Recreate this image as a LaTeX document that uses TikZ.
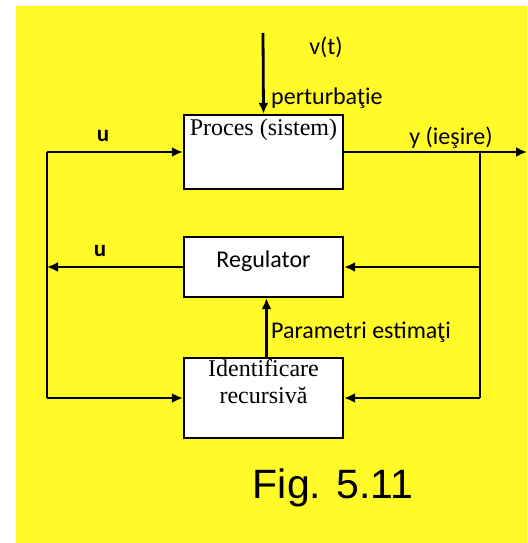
\documentclass[tikz,border=0pt]{standalone}
\usepackage{fontspec}
\setmainfont{Liberation Serif}
\newfontfamily\lblfont{Carlito}
\newfontfamily\figfont{Liberation Sans}
\usetikzlibrary{positioning, arrows.meta}
\definecolor{bgyellow}{RGB}{255,250,40}
\tikzset{
  blk/.style={draw, line width=2.3pt, fill=white, minimum width=159pt, inner sep=0pt},
  btxt/.style={font=\fontsize{24}{27}\selectfont, align=center, inner sep=0pt},
  lbl/.style={font=\lblfont\fontsize{24}{27}\selectfont, inner sep=0pt},
  sig/.style={-{Latex[length=11pt,width=10pt]}, line width=2.8pt},
  wire/.style={line width=2.8pt},
}
\begin{document}
\begin{tikzpicture}[x=1pt,y=-1pt]
        \fill[white](0,0) rectangle (527,543);
        \fill[bgyellow](16,6) rectangle (527,543);
        \useasboundingbox (0,0) rectangle (527,543);
        % blocuri
        \node[blk, minimum height=74pt](proc) at (263.5,152){};
        \node[btxt, below=5pt of proc.north](proct){Proces (sistem)};
        \node[blk, minimum height=60pt](reg) at (263.5,267){};
        \node[lbl](regt) at (263.5,261){Regulator};
        \node[blk, minimum height=80pt](ident) at (263.5,398){};
        \node[btxt, below=3pt of ident.north](identt){Identificare\\recursivă};
        % puncte
        \coordinate (vtop) at (263,33);
        \coordinate (lt) at (47,152);
        \coordinate (rt) at (480,152);
        \coordinate (yout) at (527,152);
        \coordinate (lb) at (47,398);
        \coordinate (rb) at (480,398);
        % legaturi
        \draw[sig](vtop)--(proc.north);
        \draw[sig](lt)--(proc.west);
        \draw[sig](proc.east)--(yout);
        \draw[wire](rt)--(rb);
        \draw[sig](rt |- reg.east)--(reg.east);
        \draw[sig](rb)--(ident.east);
        \draw[sig](reg.west)--(reg.west -| lt);
        \draw[wire](lt)--(lb);
        \draw[sig](lb)--(ident.west);
        \draw[sig]([xshift=3pt]ident.north)--([xshift=3pt]reg.south);
        % etichete
        \node[lbl](vt) at (326,47){v(t)};
        \node[lbl, anchor=base west](pert) at (271,104){perturbaţie};
        \node[lbl, font=\lblfont\bfseries\fontsize{23}{26}\selectfont](u1) at (103,136){u};
        \node[lbl](yies) at (451,138){y (ieşire)};
        \node[lbl, font=\lblfont\bfseries\fontsize{23}{26}\selectfont](u2) at (100,251){u};
        \node[lbl, anchor=base west](param) at (271,338){Parametri estimaţi};
        \node[inner sep=0pt, font=\figfont\fontsize{41}{44}\selectfont](fig) at (333,488){Fig. 5.11};
\end{tikzpicture}
\end{document}
